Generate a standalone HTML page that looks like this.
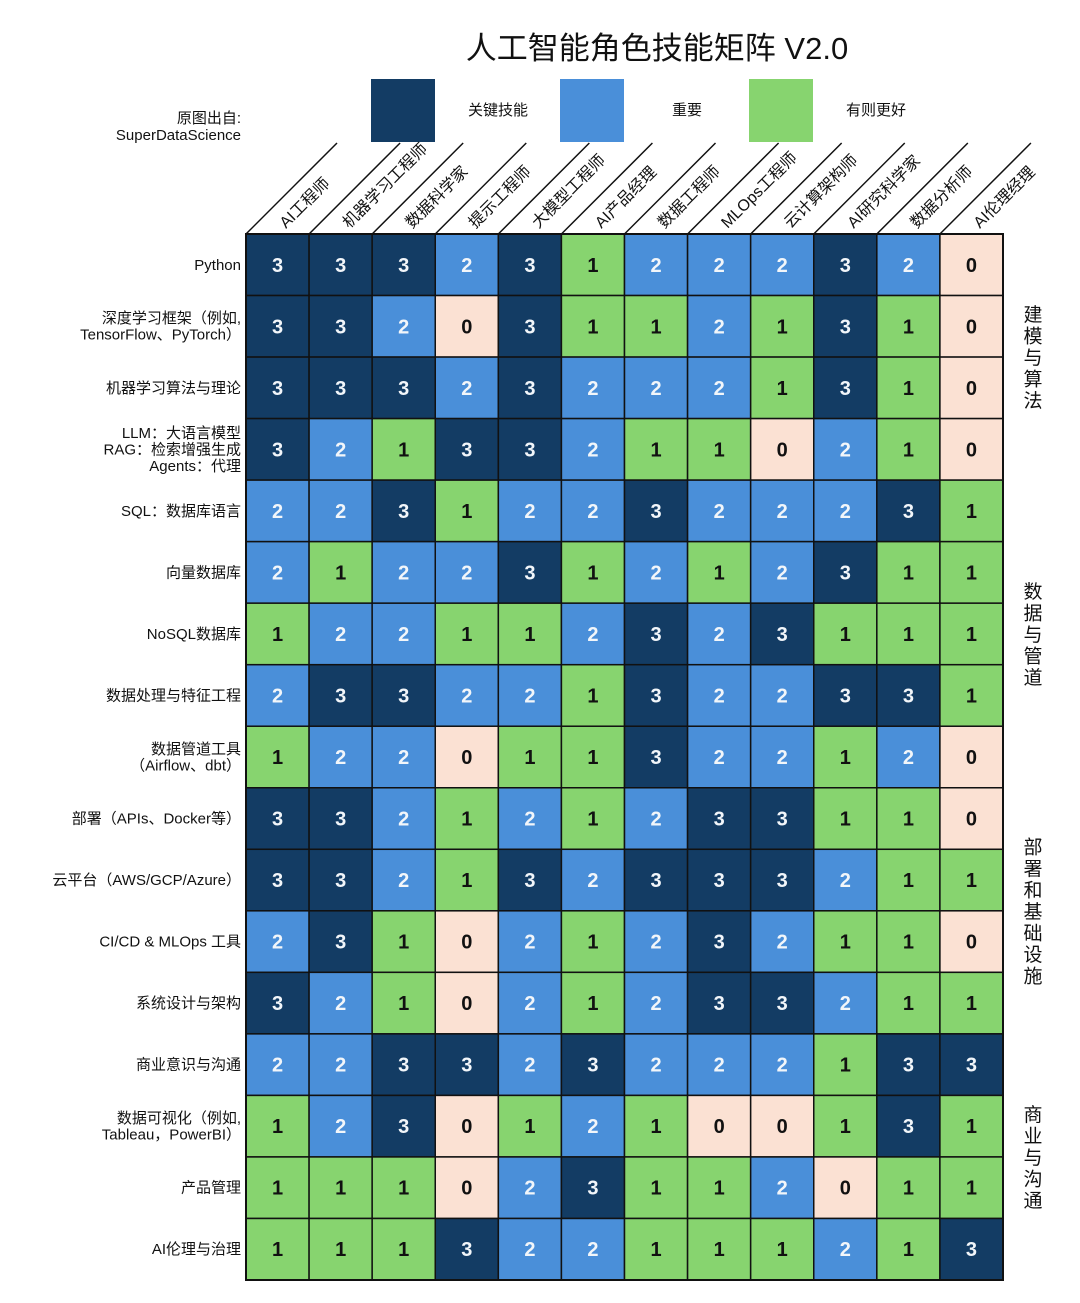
<!DOCTYPE html>
<html><head><meta charset="utf-8">
<style>
html,body{margin:0;padding:0;background:#fff;}
svg{display:block;font-family:"Liberation Sans","Noto Sans CJK SC",sans-serif;}
</style></head>
<body>
<svg id="chart" width="1080" height="1303" viewBox="0 0 1080 1303">
<text x="657" y="59" text-anchor="middle" font-size="31" fill="#111">人工智能角色技能矩阵 V2.0</text>
<text x="241" y="123" text-anchor="end" font-size="15" fill="#111">原图出自:</text>
<text x="241" y="140" text-anchor="end" font-size="15" fill="#111">SuperDataScience</text>
</svg>
<script>
const roles = ["AI工程师","机器学习工程师","数据科学家","提示工程师","大模型工程师","AI产品经理","数据工程师","MLOps工程师","云计算架构师","AI研究科学家","数据分析师","AI伦理经理"];
const skills = [["Python"],["深度学习框架（例如,","TensorFlow、PyTorch）"],["机器学习算法与理论"],["LLM：大语言模型","RAG：检索增强生成","Agents：代理"],["SQL：数据库语言"],["向量数据库"],["NoSQL数据库"],["数据处理与特征工程"],["数据管道工具","（Airflow、dbt）"],["部署（APIs、Docker等）"],["云平台（AWS/GCP/Azure）"],["CI/CD & MLOps 工具"],["系统设计与架构"],["商业意识与沟通"],["数据可视化（例如,","Tableau，PowerBI）"],["产品管理"],["AI伦理与治理"]];
const values = [
[3,3,3,2,3,1,2,2,2,3,2,0],
[3,3,2,0,3,1,1,2,1,3,1,0],
[3,3,3,2,3,2,2,2,1,3,1,0],
[3,2,1,3,3,2,1,1,0,2,1,0],
[2,2,3,1,2,2,3,2,2,2,3,1],
[2,1,2,2,3,1,2,1,2,3,1,1],
[1,2,2,1,1,2,3,2,3,1,1,1],
[2,3,3,2,2,1,3,2,2,3,3,1],
[1,2,2,0,1,1,3,2,2,1,2,0],
[3,3,2,1,2,1,2,3,3,1,1,0],
[3,3,2,1,3,2,3,3,3,2,1,1],
[2,3,1,0,2,1,2,3,2,1,1,0],
[3,2,1,0,2,1,2,3,3,2,1,1],
[2,2,3,3,2,3,2,2,2,1,3,3],
[1,2,3,0,1,2,1,0,0,1,3,1],
[1,1,1,0,2,3,1,1,2,0,1,1],
[1,1,1,3,2,2,1,1,1,2,1,3]
];
const legendLabels = ["关键技能","重要","有则更好"];
const legendLevels = [3,2,1];
const groupLabels = ["建模与算法","数据与管道","部署和基础设施","商业与沟通"];
const groupRowStart = [0,4,9,13];
const groupRowEnd = [3,8,12,16];

const fills = {3:"#133c64",2:"#4a8fd9",1:"#87d46f",0:"#fbe1d3"};
const textCol = {3:"#f2f6fa",2:"#f2f6fa",1:"#111",0:"#111"};
const X0=246, X1=1003, Y0=234, Y1=1280;
const cw=(X1-X0)/roles.length, rh=(Y1-Y0)/skills.length;
function xPos(i){return X0+i*cw;}
function yPos(j){return Y0+j*rh;}
const svg=document.getElementById('chart');
const NS="http://www.w3.org/2000/svg";
function mk(tag,attrs){const e=document.createElementNS(NS,tag);for(const k in attrs)e.setAttribute(k,attrs[k]);svg.appendChild(e);return e;}

legendLabels.forEach((lab,k)=>{
  const lx=371+k*189;
  const r=mk('rect',{x:lx,y:79,width:64,height:63,fill:fills[legendLevels[k]]});
  
  
  const t=mk('text',{x:lx+127,y:115,'text-anchor':'middle','font-size':15,fill:'#111'});
  t.textContent=lab;
  
  
});

values.forEach((row,j)=>{
  row.forEach((v,i)=>{
    const r=mk('rect',{x:xPos(i),y:yPos(j),width:cw,height:rh,fill:fills[v],stroke:'#111','stroke-width':1.5});
    
    
    const t=mk('text',{x:xPos(i)+cw/2,y:yPos(j)+rh/2+7,'text-anchor':'middle','font-size':20,'font-weight':'bold',fill:textCol[v]});
    t.textContent=v;
    
    
  });
});
mk('rect',{x:X0,y:Y0,width:X1-X0,height:Y1-Y0,fill:'none',stroke:'#111','stroke-width':2});

roles.forEach((name,i)=>{
  const x=xPos(i);
  const l=mk('line',{x1:x,y1:Y0,x2:x+91,y2:Y0-91,stroke:'#111','stroke-width':1.5});
  
  
  const tx=x+40, ty=Y0-5;
  const t=mk('text',{x:tx,y:ty,'font-size':16,fill:'#111',transform:'rotate(-45 '+tx+' '+ty+')'});
  t.textContent=name;
  
  
});

skills.forEach((lines,j)=>{
  const cy=yPos(j)+rh/2;
  const lh=16.5;
  const start=cy-(lines.length-1)*lh/2+5;
  lines.forEach((s,k)=>{
    const t=mk('text',{x:241,y:start+k*lh,'text-anchor':'end','font-size':15,fill:'#111'});
    t.textContent=s;
    
    
  });
});

groupLabels.forEach((g,k)=>{
  const cy=(yPos(groupRowStart[k])+yPos(groupRowEnd[k]+1))/2;
  const n=g.length, lh=21.5;
  const t=mk('text',{x:1033,'text-anchor':'middle','font-size':19,fill:'#111'});
  
  
  for(let c=0;c<n;c++){
    const sp=document.createElementNS(NS,'tspan');
    sp.setAttribute('x',1033);
    sp.setAttribute('y',cy-(n-1)*lh/2+c*lh+7);
    sp.textContent=g[c];
    t.appendChild(sp);
  }
});
</script>
</body></html>
